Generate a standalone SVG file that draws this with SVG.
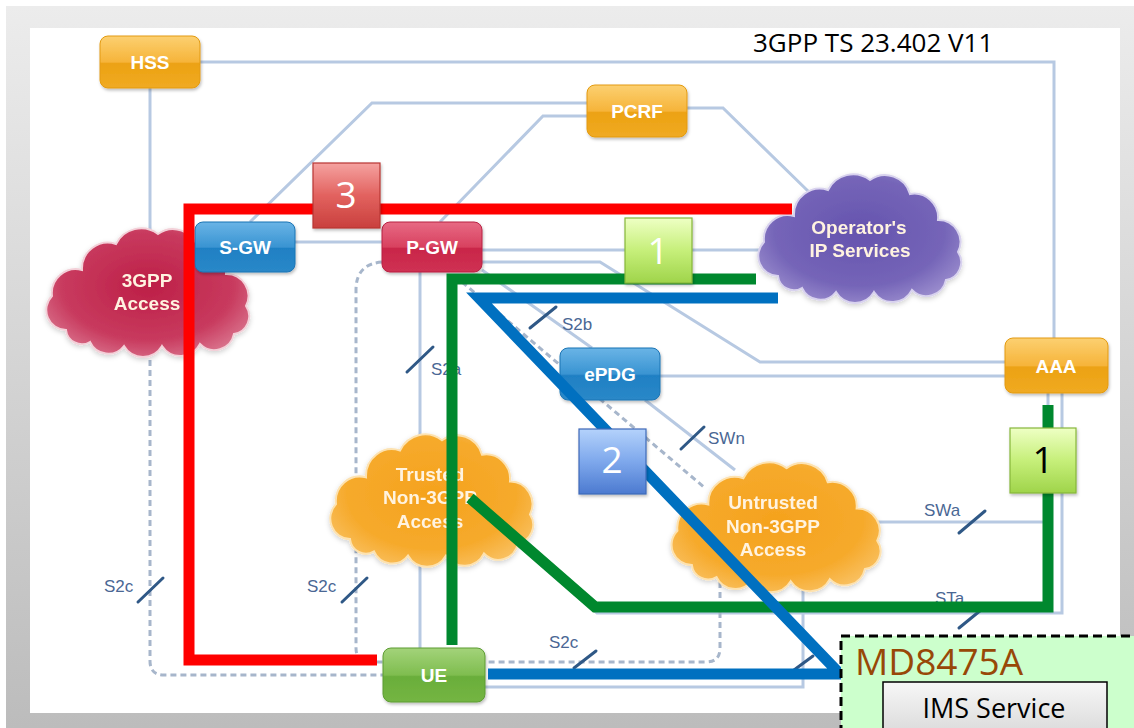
<svg xmlns="http://www.w3.org/2000/svg" xmlns:xlink="http://www.w3.org/1999/xlink" width="1134" height="728" viewBox="0 0 1134 728">
  <style>
    .link { fill: none; stroke: #b7c9e2; stroke-width: 3; }
    .dash { fill: none; stroke: #a7b6cb; stroke-width: 3; stroke-dasharray: 6 4; }
    .tick { stroke: #2f5886; stroke-width: 3; stroke-linecap: round; }
    .iflabel { font-family: "Liberation Sans", Arial, sans-serif; font-size: 17px; fill: #4a6794; }
    .nodelabel { font-family: "Liberation Sans", Arial, sans-serif; font-size: 19px; font-weight: bold; fill: #ffffff; text-anchor: middle; }
    .cloudlabel { font-family: "Liberation Sans", Arial, sans-serif; font-size: 19px; font-weight: bold; fill: #fff3e0; text-anchor: middle; }
    .box { stroke-width: 1; filter: url(#shadow); }
    .route { fill: none; stroke-width: 11; stroke-linejoin: miter; stroke-miterlimit: 10; }
    .badge { stroke-width: 1.2; filter: url(#shadow); }
    .badgetext { font-family: "Open Sans", "Noto Sans", sans-serif; font-size: 37px; text-anchor: middle; }
  </style>
  <defs>
    <linearGradient id="frameGrad" x1="0" y1="0" x2="0" y2="1">
      <stop offset="0" stop-color="#ececec"/>
      <stop offset="1" stop-color="#bcbcbc"/>
    </linearGradient>
    <linearGradient id="orangeBox" x1="0" y1="0" x2="0" y2="1">
      <stop offset="0" stop-color="#fcd071"/>
      <stop offset="0.5" stop-color="#f6b43a"/>
      <stop offset="0.53" stop-color="#eca213"/>
      <stop offset="1" stop-color="#f0aa22"/>
    </linearGradient>
    <linearGradient id="blueBox" x1="0" y1="0" x2="0" y2="1">
      <stop offset="0" stop-color="#6ab4e6"/>
      <stop offset="0.5" stop-color="#3994d2"/>
      <stop offset="0.53" stop-color="#1f80c4"/>
      <stop offset="1" stop-color="#2a88c8"/>
    </linearGradient>
    <linearGradient id="redBox" x1="0" y1="0" x2="0" y2="1">
      <stop offset="0" stop-color="#e76a84"/>
      <stop offset="0.5" stop-color="#d8415f"/>
      <stop offset="0.53" stop-color="#c92649"/>
      <stop offset="1" stop-color="#cf3153"/>
    </linearGradient>
    <linearGradient id="greenBox" x1="0" y1="0" x2="0" y2="1">
      <stop offset="0" stop-color="#a3d37a"/>
      <stop offset="0.5" stop-color="#7fbd4f"/>
      <stop offset="0.53" stop-color="#6aae3a"/>
      <stop offset="1" stop-color="#74b543"/>
    </linearGradient>
    <radialGradient id="crimsonCloud" cx="0.5" cy="0.45" r="0.6">
      <stop offset="0" stop-color="#bd1f47"/>
      <stop offset="0.7" stop-color="#c83a5e"/>
      <stop offset="1" stop-color="#d9718b"/>
    </radialGradient>
    <radialGradient id="purpleCloud" cx="0.5" cy="0.45" r="0.6">
      <stop offset="0" stop-color="#6553ae"/>
      <stop offset="0.7" stop-color="#7565b8"/>
      <stop offset="1" stop-color="#9a8ccd"/>
    </radialGradient>
    <radialGradient id="orangeCloud" cx="0.5" cy="0.45" r="0.6">
      <stop offset="0" stop-color="#f5a21d"/>
      <stop offset="0.7" stop-color="#f6aa2c"/>
      <stop offset="1" stop-color="#f9c060"/>
    </radialGradient>
    <linearGradient id="badgeRed" x1="0" y1="0" x2="0" y2="1">
      <stop offset="0" stop-color="#f5a2a0"/>
      <stop offset="0.5" stop-color="#e2625f"/>
      <stop offset="1" stop-color="#c9403d"/>
    </linearGradient>
    <linearGradient id="badgeGreen" x1="0" y1="0" x2="0" y2="1">
      <stop offset="0" stop-color="#eeffc4"/>
      <stop offset="0.5" stop-color="#c6ef7a"/>
      <stop offset="1" stop-color="#9fd44a"/>
    </linearGradient>
    <linearGradient id="badgeBlue" x1="0" y1="0" x2="0" y2="1">
      <stop offset="0" stop-color="#b4d2fb"/>
      <stop offset="0.5" stop-color="#7ea8ec"/>
      <stop offset="1" stop-color="#4c7ad0"/>
    </linearGradient>
    <linearGradient id="imsGrad" x1="0" y1="0" x2="0" y2="1">
      <stop offset="0" stop-color="#f7f7f7"/>
      <stop offset="1" stop-color="#d6d6d6"/>
    </linearGradient>
    <filter id="shadow" x="-10%" y="-10%" width="130%" height="140%">
      <feDropShadow dx="1" dy="2" stdDeviation="1.5" flood-color="#000" flood-opacity="0.25"/>
    </filter>
    <filter id="cloudGlow" x="-10%" y="-10%" width="120%" height="125%">
      <feGaussianBlur in="SourceAlpha" stdDeviation="2.5" result="b"/>
      <feOffset dy="2" result="o"/>
      <feFlood flood-color="#000" flood-opacity="0.18"/>
      <feComposite in2="o" operator="in" result="s"/>
      <feMerge><feMergeNode in="s"/><feMergeNode in="SourceGraphic"/></feMerge>
    </filter>
    <!-- generic cloud outline in a 220 x 124 box -->
    <path id="cloud" d="M28,104 A20,20 0 0 1 14,70 A24,24 0 0 1 44,44 A26,26 0 0 1 78,18 A28,28 0 0 1 120,8 A26,26 0 0 1 160,22 A24,24 0 0 1 188,48 A22,22 0 0 1 208,80 A18,18 0 0 1 196,108 A20,20 0 0 1 162,118 A22,22 0 0 1 124,120 A22,22 0 0 1 86,120 A20,20 0 0 1 52,116 A16,16 0 0 1 28,104 Z"/>
  </defs>

  <!-- page frame -->
  <rect x="6" y="6" width="1128" height="722" fill="url(#frameGrad)"/>
  <rect x="30" y="28" width="1090" height="685" fill="#ffffff"/>

  <text x="753" y="52" font-family="Open Sans, Noto Sans, sans-serif" font-size="26" fill="#000">3GPP TS 23.402 V11</text>

  <!-- reference point links -->
  <g id="connectors">
    <path class="link" d="M200,62 H1054 V338"/>
    <path class="link" d="M150,88 V240"/>
    <path class="link" d="M250,222 L372,103 H587"/>
    <path class="link" d="M440,222 L543,116 H587"/>
    <path class="link" d="M687,108 H723 L810,193"/>
    <path class="link" d="M295,242 H382"/>
    <path class="link" d="M482,250 H760"/>
    <path class="link" d="M482,262 H600 L760,362 H1005"/>
    <path class="link" d="M660,376 H1005"/>
    <path class="link" d="M482,270 L592,348"/>
    <path class="link" d="M420,272 V445"/>
    <path class="link" d="M420,552 V648"/>
    <path class="link" d="M645,400 L735,470"/>
    <path class="link" d="M873,522 H1048 V393"/>
    <path class="link" d="M510,535 L597,613 H1062 V393"/>
    <path class="link" d="M803,580 V687 H485"/>
    <path class="dash" d="M462,282 L705,488"/>
    <path class="dash" d="M720,582 V648 Q720,662 706,662 H486"/>
    <path class="dash" d="M150,350 V661 Q150,675 164,675 H383"/>
    <path class="dash" d="M382,262 Q356,264 356,290 V648 Q356,662 370,662 H383"/>

    <line class="tick" x1="530" y1="328" x2="556" y2="307"/>
    <text class="iflabel" x="562" y="330">S2b</text>
    <line class="tick" x1="407" y1="372" x2="433" y2="347"/>
    <text class="iflabel" x="431" y="375">S2a</text>
    <line class="tick" x1="681" y1="449" x2="704" y2="427"/>
    <text class="iflabel" x="708" y="444">SWn</text>
    <line class="tick" x1="959" y1="533" x2="985" y2="511"/>
    <text class="iflabel" x="924" y="516">SWa</text>
    <line class="tick" x1="959" y1="628" x2="981" y2="610"/>
    <text class="iflabel" x="935" y="604">STa</text>
    <line class="tick" x1="138" y1="602" x2="163" y2="578"/>
    <text class="iflabel" x="104" y="592">S2c</text>
    <line class="tick" x1="342" y1="602" x2="367" y2="578"/>
    <text class="iflabel" x="307" y="592">S2c</text>
    <line class="tick" x1="574" y1="668" x2="596" y2="651"/>
    <text class="iflabel" x="549" y="648">S2c</text>
    <line class="tick" x1="794" y1="670" x2="813" y2="656"/>
  </g>

  <!-- access networks -->
  <g id="access-3gpp" filter="url(#cloudGlow)">
    <use xlink:href="#cloud" href="#cloud" transform="translate(38,226) scale(1.0,1.0)" fill="url(#crimsonCloud)" stroke="#f3d0d8" stroke-width="2"/>
    <text class="cloudlabel" x="147" y="287">3GPP</text>
    <text class="cloudlabel" x="147" y="310">Access</text>
  </g>
  <g id="operator-ip" filter="url(#cloudGlow)">
    <use xlink:href="#cloud" href="#cloud" transform="translate(750,172)" fill="url(#purpleCloud)" stroke="#d8d2ee" stroke-width="2"/>
    <text class="cloudlabel" x="859" y="234">Operator's</text>
    <text class="cloudlabel" x="860" y="257">IP Services</text>
  </g>
  <g id="trusted" filter="url(#cloudGlow)">
    <use xlink:href="#cloud" href="#cloud" transform="translate(322,432) scale(1.0,1.03)" fill="url(#orangeCloud)" stroke="#fde2b0" stroke-width="2"/>
    <text class="cloudlabel" x="430" y="481">Trusted</text>
    <text class="cloudlabel" x="430" y="504">Non-3GPP</text>
    <text class="cloudlabel" x="430" y="528">Access</text>
  </g>
  <g id="untrusted" filter="url(#cloudGlow)">
    <use xlink:href="#cloud" href="#cloud" transform="translate(663,460) scale(1.03,1.01)" fill="url(#orangeCloud)" stroke="#fde2b0" stroke-width="2"/>
    <text class="cloudlabel" x="773" y="509">Untrusted</text>
    <text class="cloudlabel" x="773" y="533">Non-3GPP</text>
    <text class="cloudlabel" x="773" y="556">Access</text>
  </g>

  <!-- network elements -->
  <g id="hss">
    <rect class="box" x="100" y="36" width="100" height="52" rx="8" fill="url(#orangeBox)" stroke="#e39a10"/>
    <text class="nodelabel" x="150" y="69">HSS</text>
  </g>
  <g id="pcrf">
    <rect class="box" x="587" y="85" width="100" height="52" rx="8" fill="url(#orangeBox)" stroke="#e39a10"/>
    <text class="nodelabel" x="637" y="118">PCRF</text>
  </g>
  <g id="sgw">
    <rect class="box" x="195" y="222" width="100" height="50" rx="8" fill="url(#blueBox)" stroke="#1b74b4"/>
    <text class="nodelabel" x="245" y="254">S-GW</text>
  </g>
  <g id="pgw">
    <rect class="box" x="382" y="222" width="100" height="50" rx="8" fill="url(#redBox)" stroke="#b82043"/>
    <text class="nodelabel" x="432" y="254">P-GW</text>
  </g>
  <g id="epdg">
    <rect class="box" x="560" y="348" width="100" height="52" rx="8" fill="url(#blueBox)" stroke="#1b74b4"/>
    <text class="nodelabel" x="610" y="381">ePDG</text>
  </g>
  <g id="aaa">
    <rect class="box" x="1005" y="338" width="103" height="55" rx="8" fill="url(#orangeBox)" stroke="#e39a10"/>
    <text class="nodelabel" x="1056" y="373">AAA</text>
  </g>
  <g id="ue">
    <rect class="box" x="383" y="648" width="102" height="54" rx="8" fill="url(#greenBox)" stroke="#5d9c33"/>
    <text class="nodelabel" x="434" y="682">UE</text>
  </g>

  <!-- highlighted routes -->
  <g id="routes">
    <path class="route" stroke="#ff0000" d="M792,209 H189 V660 H377"/>
    <path class="route" stroke="#00882e" d="M756,279 H452 V645"/>
    <path class="route" stroke="#00882e" d="M1048,405 V607 H595 L470,498"/>
    <path class="route" stroke="#0070c0" stroke-width="10" d="M778,298 H479 L840,674 H488"/>
  </g>

  <g id="badge-3">
    <rect class="badge" x="313" y="163" width="67" height="65" fill="url(#badgeRed)" stroke="#b83632"/>
    <text class="badgetext" x="346" y="208" fill="#ffffff">3</text>
  </g>
  <g id="badge-1-top">
    <rect class="badge" x="625" y="218" width="67" height="65" fill="url(#badgeGreen)" stroke="#86b63a"/>
    <text class="badgetext" x="658" y="264" fill="#ffffff">1</text>
  </g>
  <g id="badge-2">
    <rect class="badge" x="579" y="429" width="67" height="65" fill="url(#badgeBlue)" stroke="#3f69b8"/>
    <text class="badgetext" x="612" y="473" fill="#ffffff">2</text>
  </g>
  <g id="badge-1-right">
    <rect class="badge" x="1010" y="428" width="66" height="65" fill="url(#badgeGreen)" stroke="#86b63a"/>
    <text class="badgetext" x="1043" y="473" fill="#000000">1</text>
  </g>

  <g id="md8475a">
    <rect x="841" y="636" width="310" height="110" fill="#ccffcc" stroke="#000" stroke-width="3" stroke-dasharray="9 5"/>
    <text x="855" y="675" font-family="Open Sans, Noto Sans, sans-serif" font-size="37" fill="#984807">MD8475A</text>
    <rect x="883" y="682" width="224" height="60" fill="url(#imsGrad)" stroke="#000" stroke-width="1.5"/>
    <text x="994" y="718" font-family="Open Sans, Noto Sans, sans-serif" font-size="27" fill="#000" text-anchor="middle">IMS Service</text>
  </g>
</svg>
